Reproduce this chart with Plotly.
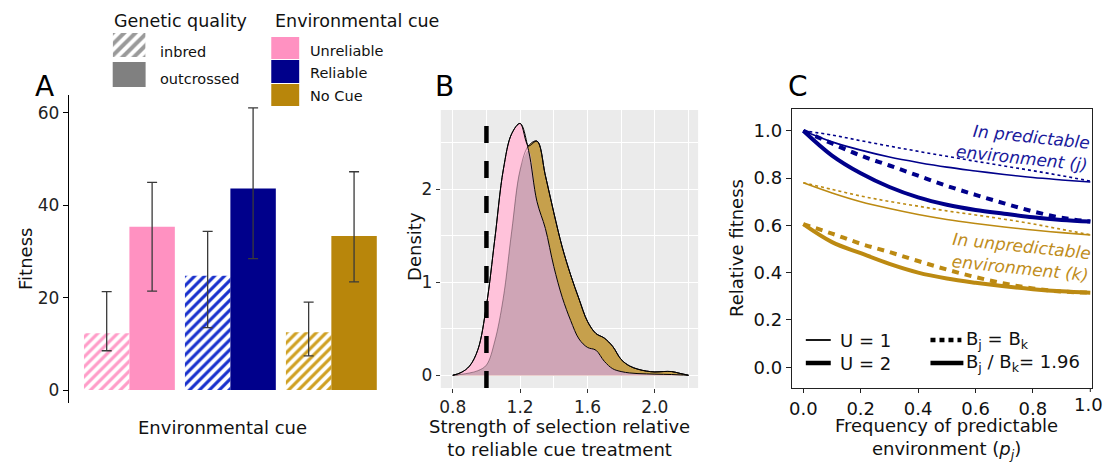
import numpy as np
import plotly.graph_objects as go

W, H = 1104, 462
FONT = "DejaVu Sans"

# ---------------- Panel A data ----------------
cue_categories = ["Unreliable", "Reliable", "No Cue"]
cue_colors = ["#FF91C1", "#00008B", "#B8860B"]
hatch_colors = ["#FF9CC8", "#1830CC", "#CFA022"]
inbred_fitness = [12.3, 24.7, 12.5]
inbred_hi = [21.3, 34.3, 19.0]
inbred_lo = [8.5, 13.5, 7.4]
outcrossed_fitness = [35.3, 43.6, 33.3]
outcrossed_hi = [44.9, 61.0, 47.2]
outcrossed_lo = [21.4, 28.4, 23.4]
fitness_ticks = [0, 20, 40, 60]

# ---------------- Panel B data ----------------
strength_x = [0.80, 0.85, 0.90, 0.95, 1.00, 1.05, 1.10, 1.15, 1.20, 1.25, 1.30, 1.35,
              1.40, 1.45, 1.50, 1.55, 1.60, 1.65, 1.70, 1.75, 1.80, 1.85, 1.90, 1.95,
              2.00, 2.05, 2.10, 2.15, 2.20]
density_unreliable = [0.0, 0.03, 0.10, 0.28, 0.75, 1.47, 2.21, 2.60, 2.71, 2.42, 1.87, 1.58,
                      1.17, 0.84, 0.59, 0.39, 0.30, 0.27, 0.15, 0.07, 0.04, 0.025, 0.018, 0.015,
                      0.012, 0.010, 0.008, 0.004, 0.0]
density_nocue = [0.0, 0.01, 0.025, 0.05, 0.11, 0.37, 0.83, 1.55, 2.21, 2.47, 2.52, 2.15,
                 1.75, 1.38, 1.08, 0.82, 0.58, 0.45, 0.40, 0.31, 0.17, 0.10, 0.065, 0.045,
                 0.036, 0.04, 0.04, 0.02, 0.0]
reference_strength = 1.0

# ---------------- Panel C data ----------------
p_j = [0.0, 0.1, 0.2, 0.3, 0.4, 0.5, 0.6, 0.7, 0.8, 0.9, 1.0]
p_j_ticks = [0.0, 0.2, 0.4, 0.6, 0.8]
p_j_last_tick = 1.0
j_U1_ratio = [1.0, 0.953, 0.918, 0.889, 0.866, 0.846, 0.830, 0.815, 0.802, 0.792, 0.783]
j_U1_equal = [1.0, 0.982, 0.958, 0.935, 0.913, 0.892, 0.871, 0.851, 0.831, 0.810, 0.787]
j_U2_ratio = [1.0, 0.895, 0.820, 0.762, 0.718, 0.687, 0.665, 0.649, 0.634, 0.623, 0.616]
j_U2_equal = [1.0, 0.946, 0.895, 0.853, 0.810, 0.767, 0.729, 0.693, 0.659, 0.632, 0.616]
k_U1_ratio = [0.780, 0.737, 0.700, 0.671, 0.646, 0.625, 0.608, 0.593, 0.580, 0.569, 0.559]
k_U1_equal = [0.780, 0.752, 0.724, 0.701, 0.681, 0.661, 0.644, 0.626, 0.606, 0.583, 0.560]
k_U2_ratio = [0.605, 0.529, 0.482, 0.437, 0.400, 0.375, 0.357, 0.342, 0.330, 0.321, 0.315]
k_U2_equal = [0.605, 0.565, 0.522, 0.487, 0.449, 0.413, 0.381, 0.354, 0.333, 0.320, 0.315]

BLUE = "#00008B"
GOLD = "#BC8A12"


def px(x):
    return x / W


def py(y):
    return 1 - y / H


fig = go.Figure()

# ---------- Panel A bars ----------
fig.add_bar(
    x=cue_categories, y=inbred_fitness, name="inbred",
    marker=dict(color="white", line=dict(width=0),
                pattern=dict(shape="/", fgcolor=hatch_colors, bgcolor="white", fgopacity=1,
                             fillmode="overlay", size=7, solidity=0.45)),
    error_y=dict(type="data", symmetric=False,
                 array=[h - v for h, v in zip(inbred_hi, inbred_fitness)],
                 arrayminus=[v - l for v, l in zip(inbred_fitness, inbred_lo)],
                 color="#3a3a3a", thickness=1.3, width=5),
    xaxis="x", yaxis="y", showlegend=False,
)
fig.add_bar(
    x=cue_categories, y=outcrossed_fitness, name="outcrossed",
    marker=dict(color=cue_colors, line=dict(width=0)),
    error_y=dict(type="data", symmetric=False,
                 array=[h - v for h, v in zip(outcrossed_hi, outcrossed_fitness)],
                 arrayminus=[v - l for v, l in zip(outcrossed_fitness, outcrossed_lo)],
                 color="#3a3a3a", thickness=1.3, width=5),
    xaxis="x", yaxis="y", showlegend=False,
)

# ---------- Panel B densities ----------
d_min = np.minimum(density_unreliable, density_nocue)
d_max = np.maximum(density_unreliable, density_nocue)
fig.add_scatter(x=strength_x, y=density_nocue, fill="tozeroy", fillcolor="#C6A04C",
                mode="lines", line=dict(color="black", width=1, shape="spline"),
                xaxis="x2", yaxis="y2", showlegend=False)
fig.add_scatter(x=strength_x, y=density_unreliable, fill="tozeroy", fillcolor="#FFC2DA",
                mode="lines", line=dict(color="rgba(0,0,0,0)", width=0, shape="spline"),
                xaxis="x2", yaxis="y2", showlegend=False)
fig.add_scatter(x=strength_x, y=d_min, fill="tozeroy", fillcolor="#CFA5B6",
                mode="lines", line=dict(color="rgba(0,0,0,0)", width=0, shape="spline"),
                xaxis="x2", yaxis="y2", showlegend=False)
fig.add_scatter(x=strength_x, y=density_nocue, mode="lines",
                line=dict(color="rgba(60,40,50,0.45)", width=1, shape="spline"),
                xaxis="x2", yaxis="y2", showlegend=False)
fig.add_scatter(x=strength_x, y=density_unreliable, mode="lines",
                line=dict(color="black", width=1, shape="spline"),
                xaxis="x2", yaxis="y2", showlegend=False)
fig.add_scatter(x=strength_x, y=d_max, mode="lines",
                line=dict(color="black", width=1, shape="spline"),
                xaxis="x2", yaxis="y2", showlegend=False)

# ---------- Panel C lines ----------
c_series = [
    (j_U1_equal, BLUE, 1.6, "3px,3px"),
    (j_U1_ratio, BLUE, 1.6, "solid"),
    (j_U2_equal, BLUE, 4, "7px,6px"),
    (j_U2_ratio, BLUE, 4, "solid"),
    (k_U1_equal, GOLD, 1.6, "3px,3px"),
    (k_U1_ratio, GOLD, 1.6, "solid"),
    (k_U2_equal, GOLD, 4, "7px,6px"),
    (k_U2_ratio, GOLD, 4, "solid"),
]
for ys, col, wd, dash in c_series:
    fig.add_scatter(x=p_j, y=ys, mode="lines",
                    line=dict(color=col, width=wd, dash=dash, shape="spline"),
                    xaxis="x3", yaxis="y3", showlegend=False)

# ---------- hatch legend key (tiny axis) ----------
fig.add_bar(x=[0], y=[1], width=[1],
            marker=dict(color="white", line=dict(width=0),
                        pattern=dict(shape="/", fgcolor="#9A9A9A", bgcolor="white", fgopacity=1,
                                     fillmode="overlay", size=8, solidity=0.5)),
            xaxis="x4", yaxis="y4", showlegend=False, hoverinfo="skip")

tickfont = dict(family=FONT, size=17, color="#222")
ctickfont = dict(family=FONT, size=18, color="#111")

fig.update_layout(
    width=W, height=H, autosize=False,
    margin=dict(l=0, r=0, t=0, b=0),
    paper_bgcolor="white", plot_bgcolor="white",
    font=dict(family=FONT, color="#111"),
    barmode="group", bargap=0.1, bargroupgap=0,
    xaxis=dict(domain=[px(66), px(390)], range=[-0.6, 2.6], showticklabels=False,
               showline=False, showgrid=False, zeroline=False, ticks="", anchor="y"),
    yaxis=dict(domain=[py(403), py(95)], range=[-2.8, 63.8], tickvals=fitness_ticks,
               showline=True, linecolor="black", linewidth=1.2, ticks="outside",
               ticklen=5, tickcolor="black", showgrid=False, zeroline=False,
               tickfont=tickfont, anchor="x"),
    xaxis2=dict(domain=[px(439), px(697)], range=[0.729, 2.257], tick0=0.8, dtick=0.4,
                tickformat=".1f", showgrid=True, gridcolor="white", gridwidth=1.4,
                minor=dict(dtick=0.2, tick0=0.8, showgrid=True, gridcolor="white", gridwidth=0.6),
                ticks="outside", ticklen=4, tickcolor="#333", zeroline=False,
                showline=False, tickfont=tickfont, anchor="y2"),
    yaxis2=dict(domain=[py(388), py(110)], range=[-0.137, 2.855], tickvals=[0, 1, 2],
                showgrid=True, gridcolor="white", gridwidth=1.4,
                minor=dict(dtick=0.5, tick0=0, showgrid=True, gridcolor="white", gridwidth=0.6),
                ticks="outside", ticklen=4, tickcolor="#333", zeroline=False,
                showline=False, tickfont=tickfont, anchor="x2"),
    xaxis3=dict(domain=[px(791), px(1092)], range=[-0.040, 1.006], tickvals=p_j_ticks,
                tickformat=".1f", showline=True, mirror=True, linecolor="#222", linewidth=1.2,
                ticks="outside", ticklen=4, tickcolor="#222", showgrid=False, zeroline=False,
                tickfont=ctickfont, anchor="y3"),
    yaxis3=dict(domain=[py(388), py(109)], range=[-0.088, 1.092], tickvals=[0, 0.2, 0.4, 0.6, 0.8, 1.0],
                tickformat=".1f", showline=True, mirror=True, linecolor="#222", linewidth=1.2,
                ticks="outside", ticklen=5, tickcolor="#222", showgrid=False, zeroline=False,
                tickfont=ctickfont, anchor="x3"),
    xaxis4=dict(domain=[px(110), px(143)], range=[-0.5, 0.5], visible=False, fixedrange=True, anchor="y4"),
    yaxis4=dict(domain=[py(57), py(33)], range=[0, 1], visible=False, fixedrange=True, anchor="x4"),
)

shapes = []
# Panel B grey background
shapes.append(dict(type="rect", xref="x2 domain", yref="y2 domain", x0=0, x1=1, y0=0, y1=1,
                   fillcolor="#EBEBEB", line=dict(width=0), layer="below"))
# dashed reference line
shapes.append(dict(type="line", xref="x2", yref="y2 domain", x0=reference_strength, x1=reference_strength,
                   y0=0, y1=1, line=dict(color="black", width=4.5, dash="17px,18px"), layer="above"))
# last x tick mark of panel C (its label is drawn as an annotation that stays inside the page)
shapes.append(dict(type="line", xref="x3", yref="y3 domain", x0=p_j_last_tick, x1=p_j_last_tick,
                   y0=0, y1=-4 / 279, line=dict(color="#222", width=1)))
# legend A keys
shapes.append(dict(type="rect", xref="paper", yref="paper", x0=px(110), x1=px(143), y0=py(87), y1=py(62),
                   fillcolor="#808080", line=dict(width=0)))
for (y0, y1), col in zip([(37, 59), (60, 83), (84, 106)], cue_colors):
    shapes.append(dict(type="rect", xref="paper", yref="paper", x0=px(269), x1=px(297),
                       y0=py(y1), y1=py(y0), fillcolor=col, line=dict(width=0)))
# legend C keys
shapes.append(dict(type="line", xref="paper", yref="paper", x0=px(805), x1=px(830), y0=py(340), y1=py(340),
                   line=dict(color="black", width=1.8)))
shapes.append(dict(type="line", xref="paper", yref="paper", x0=px(805), x1=px(830), y0=py(363), y1=py(363),
                   line=dict(color="black", width=4.5)))
shapes.append(dict(type="line", xref="paper", yref="paper", x0=px(930), x1=px(961), y0=py(340), y1=py(340),
                   line=dict(color="black", width=4.5, dash="5px,4px")))
shapes.append(dict(type="line", xref="paper", yref="paper", x0=px(930), x1=px(963), y0=py(363), y1=py(363),
                   line=dict(color="black", width=4.5)))
fig.update_layout(shapes=shapes)


def ann(text, x, y, size=18, xanchor="center", yanchor="middle", color="#111", angle=0, align="center"):
    return dict(text=text, x=px(x), y=py(y), xref="paper", yref="paper", showarrow=False,
                xanchor=xanchor, yanchor=yanchor, textangle=angle, align=align,
                font=dict(family=FONT, size=size, color=color))


annotations = [
    ann("A", 42, 86, size=28, color="black"),
    ann("B", 443, 86, size=28, color="black"),
    ann("C", 797, 86, size=28, color="black"),
    ann("Genetic quality", 109, 21, size=17.5, xanchor="left"),
    ann("Environmental cue", 271, 21, size=17.5, xanchor="left"),
    ann("inbred", 155, 52, size=14.5, xanchor="left"),
    ann("outcrossed", 155, 79, size=14.5, xanchor="left"),
    ann("Unreliable", 306, 51, size=14.5, xanchor="left"),
    ann("Reliable", 306, 73, size=14.5, xanchor="left"),
    ann("No Cue", 306, 96, size=14.5, xanchor="left"),
    ann("Environmental cue", 220, 427),
    ann("Fitness", 22, 259, angle=-90),
    ann("Density", 413, 246, angle=-90),
    ann("Strength of selection relative<br>to reliable cue treatment", 558, 438),
    ann("Relative fitness", 735, 248, angle=-90),
    ann("Frequency of predictable<br>environment (<i>p<sub>j</sub></i>)", 946, 438),
    ann("<i>In predictable<br>environment (j)</i>", 1023, 147, size=17, color="#1A1A9C", angle=6, align="right"),
    ann("<i>In unpredictable<br>environment (k)</i>", 1020, 257, size=17, color="#BF8D1C", angle=6, align="right"),
    ann("U = 1", 837, 340, xanchor="left"),
    ann("U = 2", 837, 363, xanchor="left"),
    ann("B<sub>j</sub> = B<sub>k</sub>", 964, 340, xanchor="left"),
    ann("B<sub>j</sub> / B<sub>k</sub>= 1.96", 964, 363, xanchor="left"),
]
# label for the last x tick of panel C, right-aligned inside the page edge
annotations.append(dict(text=f"{p_j_last_tick:.1f}", x=p_j_last_tick, xref="x3", y=py(392), yref="paper",
                        showarrow=False, xanchor="center", yanchor="top", xshift=-2,
                        font=ctickfont))
fig.update_layout(annotations=annotations)

post = (
    "var st=document.createElement('style');"
    "st.textContent='html,body{margin:0;padding:0;overflow:hidden;}.modebar-container{display:none !important;}';"
    "document.head.appendChild(st);"
)
fig.write_html("out.html", post_script=post)
